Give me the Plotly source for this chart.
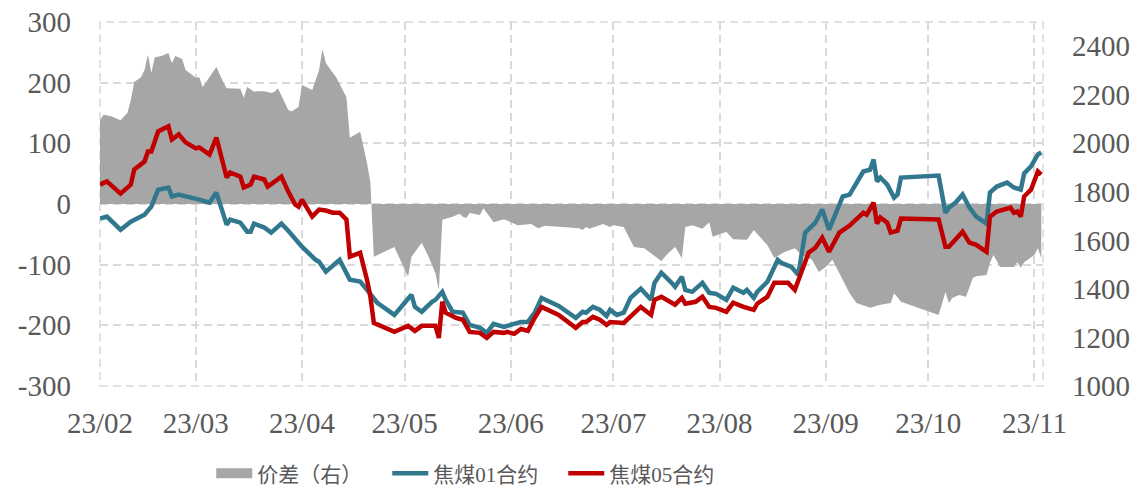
import plotly.graph_objects as go

# ---- data ----
spread_dates = ["2023-02-01","2023-02-02","2023-02-04","2023-02-05","2023-02-07","2023-02-09","2023-02-10","2023-02-11","2023-02-13","2023-02-14","2023-02-15","2023-02-16","2023-02-17","2023-02-19","2023-02-21","2023-02-22","2023-02-23","2023-02-25","2023-02-26",
"2023-03-01","2023-03-02","2023-03-03","2023-03-07","2023-03-09","2023-03-10","2023-03-14","2023-03-15","2023-03-16","2023-03-18","2023-03-19","2023-03-21","2023-03-23","2023-03-24","2023-03-25","2023-03-28","2023-03-29","2023-03-31",
"2023-04-01","2023-04-04","2023-04-06","2023-04-07","2023-04-08","2023-04-11","2023-04-14","2023-04-15","2023-04-18","2023-04-20","2023-04-21","2023-04-22","2023-04-28","2023-04-30",
"2023-05-02","2023-05-03","2023-05-06","2023-05-08","2023-05-10","2023-05-11","2023-05-12","2023-05-15","2023-05-17","2023-05-18","2023-05-19","2023-05-20","2023-05-23","2023-05-24","2023-05-27","2023-05-30",
"2023-06-03","2023-06-07","2023-06-09","2023-06-11","2023-06-16","2023-06-21","2023-06-22","2023-06-23","2023-06-24","2023-06-28","2023-06-30",
"2023-07-01","2023-07-04","2023-07-07","2023-07-10","2023-07-12","2023-07-15","2023-07-17","2023-07-19","2023-07-21","2023-07-22","2023-07-24","2023-07-27","2023-07-29","2023-07-30",
"2023-08-02","2023-08-03","2023-08-05","2023-08-09","2023-08-11","2023-08-15","2023-08-17","2023-08-20","2023-08-23","2023-08-25","2023-08-28","2023-08-30",
"2023-09-01","2023-09-03","2023-09-05","2023-09-08","2023-09-10","2023-09-14","2023-09-17","2023-09-20","2023-09-21","2023-09-23",
"2023-10-04","2023-10-06","2023-10-07","2023-10-08","2023-10-10","2023-10-12","2023-10-14","2023-10-15","2023-10-18","2023-10-19","2023-10-20","2023-10-22","2023-10-26","2023-10-27","2023-10-28","2023-10-29",
"2023-11-01","2023-11-02","2023-11-03"]
spread_vals = [138,147,145,143,138,150,171,201,209,221,246,216,242,244,249,232,244,239,221,
208,209,193,226,201,191,190,175,193,185,186,186,183,185,191,155,153,160,
196,188,221,255,232,209,176,109,119,68,35,-87,-71,-97,
-120,-87,-64,-87,-114,-142,-26,-21,-16,-21,-23,-15,-18,-7,-30,-25,
-35,-33,-40,-36,-38,-40,-43,-38,-41,-33,-38,
-35,-38,-71,-73,-81,-94,-81,-71,-89,-38,-35,-41,-30,-54,
-48,-46,-58,-59,-43,-68,-89,-79,-73,-84,-92,-112,
-104,-92,-114,-147,-163,-171,-166,-163,-147,-161,
-183,-145,-163,-155,-150,-153,-122,-119,-117,-97,-84,-104,-104,-96,-105,-96,
-84,-73,-89]

c01_dates = ["2023-02-01","2023-02-03","2023-02-07","2023-02-10","2023-02-14","2023-02-16","2023-02-18","2023-02-21","2023-02-22","2023-02-24",
"2023-03-02","2023-03-05","2023-03-07","2023-03-10","2023-03-11","2023-03-14","2023-03-16","2023-03-17","2023-03-18","2023-03-21","2023-03-23","2023-03-26","2023-03-28",
"2023-04-01","2023-04-05","2023-04-06","2023-04-08","2023-04-12","2023-04-15","2023-04-18","2023-04-20","2023-04-23","2023-04-28",
"2023-05-03","2023-05-04","2023-05-06","2023-05-09","2023-05-10","2023-05-12","2023-05-13","2023-05-15","2023-05-18","2023-05-20","2023-05-23","2023-05-25","2023-05-27","2023-05-30",
"2023-06-01","2023-06-02","2023-06-04","2023-06-06","2023-06-08","2023-06-10","2023-06-15","2023-06-20","2023-06-22","2023-06-23","2023-06-25","2023-06-27","2023-06-29","2023-06-30",
"2023-07-02","2023-07-04","2023-07-06","2023-07-09","2023-07-12","2023-07-13","2023-07-15","2023-07-18","2023-07-19","2023-07-21","2023-07-22","2023-07-24","2023-07-26","2023-07-27","2023-07-29","2023-07-31",
"2023-08-03","2023-08-05","2023-08-08","2023-08-09","2023-08-11","2023-08-12","2023-08-15","2023-08-18","2023-08-19","2023-08-22","2023-08-24","2023-08-25","2023-08-26","2023-08-29","2023-08-31",
"2023-09-02","2023-09-06","2023-09-08","2023-09-10","2023-09-12","2023-09-14","2023-09-15","2023-09-16","2023-09-17","2023-09-19","2023-09-21","2023-09-22","2023-09-23",
"2023-10-04","2023-10-06","2023-10-07","2023-10-09","2023-10-11","2023-10-13","2023-10-15","2023-10-18","2023-10-19","2023-10-21","2023-10-24","2023-10-26","2023-10-28","2023-10-29","2023-10-31",
"2023-11-02","2023-11-03"]
c01_vals = [1690,1698,1644,1677,1706,1739,1809,1818,1781,1789,
1768,1756,1797,1665,1686,1673,1636,1636,1669,1653,1632,1669,1640,
1574,1520,1512,1471,1520,1438,1430,1396,1343,1293,
1376,1326,1306,1347,1355,1388,1355,1306,1302,1252,1240,1219,1256,1244,
1252,1252,1264,1264,1302,1363,1330,1281,1306,1302,1326,1314,1289,1314,
1293,1302,1363,1401,1355,1425,1467,1425,1409,1450,1396,1388,1409,1425,1384,1380,
1355,1405,1384,1396,1363,1388,1430,1520,1508,1491,1458,1549,1632,1673,1727,
1644,1781,1789,1838,1884,1892,1933,1843,1859,1830,1776,1789,1859,
1867,1714,1735,1756,1789,1735,1698,1669,1797,1822,1838,1818,1809,1876,1905,
1954,1962]

c05_dates = ["2023-02-01","2023-02-03","2023-02-07","2023-02-10","2023-02-11","2023-02-14","2023-02-15","2023-02-16","2023-02-18","2023-02-21","2023-02-22","2023-02-24","2023-02-26",
"2023-03-01","2023-03-02","2023-03-05","2023-03-07","2023-03-10","2023-03-11","2023-03-14","2023-03-15","2023-03-17","2023-03-18","2023-03-21","2023-03-22","2023-03-26","2023-03-28","2023-03-30","2023-03-31",
"2023-04-01","2023-04-04","2023-04-06","2023-04-08","2023-04-10","2023-04-12","2023-04-14","2023-04-15","2023-04-17","2023-04-18","2023-04-20","2023-04-21","2023-04-22","2023-04-28",
"2023-05-02","2023-05-04","2023-05-06","2023-05-10","2023-05-11","2023-05-12","2023-05-13","2023-05-16","2023-05-18","2023-05-20","2023-05-23","2023-05-25","2023-05-27","2023-05-30","2023-05-31",
"2023-06-02","2023-06-04","2023-06-06","2023-06-08","2023-06-10","2023-06-15","2023-06-20","2023-06-22","2023-06-23","2023-06-25","2023-06-27","2023-06-29","2023-06-30",
"2023-07-04","2023-07-07","2023-07-09","2023-07-12","2023-07-13","2023-07-15","2023-07-18","2023-07-19","2023-07-21","2023-07-22","2023-07-25","2023-07-27","2023-07-29","2023-07-31",
"2023-08-03","2023-08-05","2023-08-08","2023-08-11","2023-08-12","2023-08-15","2023-08-17","2023-08-21","2023-08-23","2023-08-25","2023-08-27","2023-08-29","2023-08-31",
"2023-09-02","2023-09-05","2023-09-08","2023-09-10","2023-09-12","2023-09-13","2023-09-15","2023-09-16","2023-09-17","2023-09-19","2023-09-20","2023-09-22","2023-09-23",
"2023-10-04","2023-10-06","2023-10-07","2023-10-09","2023-10-11","2023-10-13","2023-10-15","2023-10-18","2023-10-19","2023-10-21","2023-10-25","2023-10-26","2023-10-27","2023-10-28","2023-10-29","2023-10-31",
"2023-11-01","2023-11-02","2023-11-03"]
c05_vals = [1830,1843,1793,1830,1892,1925,1966,1966,2049,2070,2016,2037,2004,
1979,1983,1954,2024,1859,1880,1863,1818,1830,1863,1851,1822,1863,1801,1748,1739,
1768,1698,1727,1723,1714,1714,1686,1533,1541,1549,1438,1368,1260,1223,
1248,1227,1248,1248,1198,1347,1302,1281,1273,1223,1219,1198,1223,1219,1223,
1215,1235,1227,1281,1326,1293,1240,1264,1264,1285,1273,1252,1264,
1260,1302,1326,1293,1355,1368,1343,1335,1363,1339,1347,1368,1326,1322,
1306,1343,1326,1314,1339,1368,1425,1425,1396,1467,1549,1570,1611,
1553,1632,1661,1686,1714,1706,1756,1669,1694,1673,1632,1640,1690,
1686,1574,1574,1603,1636,1591,1582,1553,1698,1719,1735,1714,1719,1698,1781,1809,
1851,1884,1871]

month_ticks = ["2023-02-01","2023-03-01","2023-04-01","2023-05-01","2023-06-01","2023-07-01",
               "2023-08-01","2023-09-01","2023-10-01","2023-11-01"]
month_labels = ["23/02","23/03","23/04","23/05","23/06","23/07","23/08","23/09","23/10","23/11"]
left_ticks = [-300,-200,-100,0,100,200,300]
left_labels = ["-300","-200","-100","0","100","200","300"]
right_ticks = [1000,1200,1400,1600,1800,2000,2200,2400]

names = ["价差（右）", "焦煤01合约", "焦煤05合约"]
GRAY = "#a6a6a6"
BLUE = "#31788f"
RED = "#c00000"
TXT = "#595959"
GRID = "#d9d9d9"
FONT = "Liberation Serif, 'Times New Roman', 'Noto Sans CJK SC', serif"

fig = go.Figure()
fig.add_trace(go.Scatter(x=spread_dates, y=spread_vals, mode="lines", fill="tozeroy",
                         fillcolor=GRAY, line=dict(width=0, color=GRAY),
                         showlegend=False, yaxis="y"))
# legend proxy for the area
fig.add_trace(go.Scatter(x=[None], y=[None], mode="lines", name=names[0],
                         line=dict(width=16, color=GRAY), yaxis="y"))
fig.add_trace(go.Scatter(x=c01_dates, y=c01_vals, mode="lines", name=names[1],
                         line=dict(width=4.5, color=BLUE), yaxis="y2"))
fig.add_trace(go.Scatter(x=c05_dates, y=c05_vals, mode="lines", name=names[2],
                         line=dict(width=4.5, color=RED), yaxis="y2"))

fig.update_layout(
    width=1139, height=489,
    margin=dict(l=100, r=96, t=22, b=103, autoexpand=False),
    paper_bgcolor="white", plot_bgcolor="white",
    font=dict(family=FONT, color=TXT, size=29),
    xaxis=dict(type="date", range=["2023-02-01", "2023-11-03 12:00"],
               tickvals=month_ticks, ticktext=month_labels,
               showgrid=True, gridcolor=GRID, griddash="8px,5px", gridwidth=1.5,
               showline=False, zeroline=False, ticks="", ticklabelstandoff=17,
               tickfont=dict(size=29), automargin=False, ticklabeloverflow="allow"),
    yaxis=dict(range=[-300, 300], tickvals=left_ticks, ticktext=left_labels,
               showgrid=True, gridcolor=GRID, griddash="8px,5px", gridwidth=1.5,
               zeroline=False, showline=False, ticks="", ticklabelstandoff=28,
               tickfont=dict(size=29), automargin=False, ticklabeloverflow="allow"),
    yaxis2=dict(range=[1000, 2500], tickvals=right_ticks, overlaying="y", side="right",
                showgrid=False, zeroline=False, showline=False, ticks="",
                ticklabelstandoff=28, tickfont=dict(size=29), automargin=False,
                ticklabeloverflow="allow"),
    legend=dict(orientation="h", x=0.118, xanchor="left", y=-0.241, yanchor="middle",
                font=dict(size=21, color=TXT), bgcolor="rgba(0,0,0,0)",
                itemwidth=36, entrywidth=125, entrywidthmode="pixels"),
    shapes=[dict(type="rect", xref="paper", yref="paper", x0=0, x1=1, y0=0, y1=1,
                 line=dict(color=GRID, width=1.5, dash="8px,5px"), layer="below")],
)

fig.write_html("out.html", config={"displayModeBar": False},
               post_script="document.body.style.margin='0';")
